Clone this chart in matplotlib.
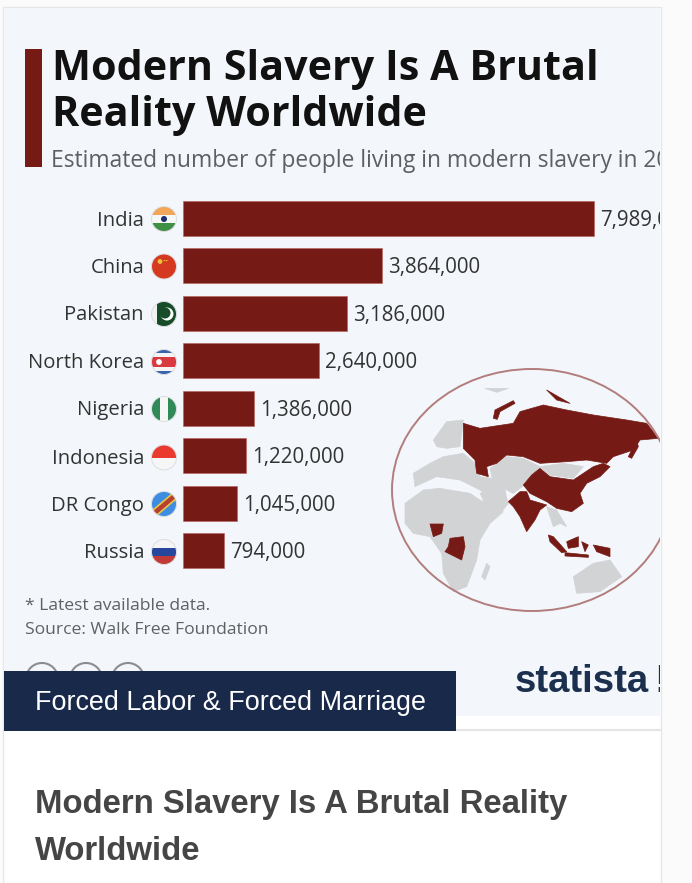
import matplotlib
matplotlib.use('Agg')
import matplotlib.pyplot as plt
from matplotlib.patches import Circle, Ellipse, Polygon, Rectangle

# chart data
countries = ['India', 'China', 'Pakistan', 'North Korea', 'Nigeria', 'Indonesia', 'DR Congo', 'Russia']
people = [7989000, 3864000, 3186000, 2640000, 1386000, 1220000, 1045000, 794000]
title_lines = ['Modern Slavery Is A Brutal', 'Reality Worldwide']
subtitle = 'Estimated number of people living in modern slavery in 2016*'
notes = ['* Latest available data.', 'Source: Walk Free Foundation']

DARK = '#751a14'
GREY = '#d2d3d5'
SANS = ['Open Sans', 'DejaVu Sans']

# map shapes, in the coordinates of a 300x260 crop starting at (380, 360)
grey_shapes = [
    [(75,430),(130,390),(180,385),(270,400),(300,420),(370,455),(330,490),(300,540),(290,600),(260,680),(220,695),(190,640),(185,580),(150,530),(100,520),(75,490)],
    [(105,380),(100,340),(150,310),(190,290),(250,280),(285,310),(300,350),(370,360),(380,420),(350,430),(300,390),(240,360),(170,350)],
    [(160,240),(200,185),(250,180),(240,260),(200,265),(170,260)],
    [(330,325),(380,290),(430,295),(480,320),(440,370),(400,400),(340,370)],
    [(480,320),(550,310),(610,320),(580,355),(510,345)],
    [(500,440),(530,450),(560,500),(540,490),(520,500)],
    [(580,650),(640,610),(690,600),(725,650),(660,695),(590,700)],
    [(320,610),(330,620),(315,660),(305,650)],
    [(315,85),(385,85),(350,97)],
    [(300,400),(370,380),(385,430),(365,455),(320,440)],
]
dark_shapes = [
    [(250,190),(300,205),(400,190),(420,155),(490,135),(560,150),(640,165),(740,180),(800,190),(835,235),(780,240),(760,270),(700,290),(680,310),(620,300),(560,305),(480,310),(430,290),(380,285),(350,310),(320,320),(325,350),(290,340),(285,300),(250,265)],
    [(480,325),(510,350),(580,360),(610,340),(640,320),(670,310),(690,320),(660,350),(620,370),(600,400),(610,430),(575,455),(530,445),(500,425),(450,400),(430,375),(455,345)],
    [(385,425),(420,395),(440,395),(450,420),(500,435),(480,450),(465,480),(440,515),(420,470),(400,440)],
    [(150,492),(190,492),(185,520),(160,530)],
    [(210,535),(250,530),(255,560),(245,600),(215,585),(195,575),(205,560)],
    [(505,525),(520,530),(560,575),(545,578),(510,545)],
    [(560,545),(595,530),(595,560),(565,565)],
    [(555,578),(625,585),(625,592),(555,588)],
    [(605,545),(625,555),(615,575)],
    [(640,555),(690,565),(690,590),(650,575)],
    [(745,290),(770,240),(775,260),(755,295)],
    [(340,175),(345,150),(400,122),(405,130),(360,155),(352,178)],
    [(500,90),(570,130),(530,120)],
]

fig = plt.figure(figsize=(6.92, 8.83), dpi=100)
bg = fig.add_axes([0, 0, 1, 1])
bg.set_xlim(0, 692)
bg.set_ylim(883, 0)
bg.axis('off')
fig.patch.set_facecolor('#fbfbfc')

# card
bg.add_patch(Rectangle((3, 7), 658, 876, fc='white', ec='#e6e7e9', lw=1))
panel = Rectangle((4, 8), 656, 708, fc='#f3f6fa', ec='none')
bg.add_patch(panel)
bg.plot([456, 660], [730, 730], color='#e4e5e7', lw=1.5)
bg.add_patch(Rectangle((25, 49), 17, 118, fc=DARK, ec='none'))

# header
bg.text(52, 70, title_lines[0], fontsize=29.7, fontweight='bold', family=SANS, color='#111111', va='center')
bg.text(52, 115, title_lines[1], fontsize=29.7, fontweight='bold', family=SANS, color='#111111', va='center')
sub = bg.text(51, 161, subtitle, fontsize=16.4, family=SANS, color='#5d5f62', va='center')
sub.set_clip_on(True)
sub.set_clip_path(panel)

# bars, through their own axes
ax = fig.add_axes([183 / 692, 1 - 576 / 883, 477 / 692, 380 / 883])
ax.set_xlim(0, 477 / 411 * people[0])
ax.set_ylim(len(countries) - 0.5 + 0.03, -0.5 + 0.03)
ax.axis('off')
ax.patch.set_alpha(0)
ax.barh(range(len(countries)), people, height=0.74, color=DARK, edgecolor='#b9605a', linewidth=0.4)
for i, v in enumerate(people):
    ax.annotate(f'{v:,}', (v, i), xytext=(6, -2), textcoords='offset pixels', va='center',
                fontsize=14.8, family=SANS, color='#333333', annotation_clip=False, clip_on=True)

row_y = [219, 266.5, 314, 362, 409, 457.5, 504, 552]
for name, y in zip(countries, row_y):
    bg.text(144, y + 1.5, name, ha='right', va='center', fontsize=14.6, family=SANS, color='#333333')


def flag(y, stripes, horizontal=True):
    clip = Circle((164, y), 12.5, transform=bg.transData)
    n = len(stripes)
    for k, c in enumerate(stripes):
        if horizontal:
            r = Rectangle((151, y - 12.5 + 25 * k / n), 26, 25 / n, fc=c, ec='none')
        else:
            r = Rectangle((151.5 + 25 * k / n, y - 13), 25 / n, 26, fc=c, ec='none')
        bg.add_patch(r)
        r.set_clip_path(clip)
    return clip


flag(row_y[0], ['#f2a65a', '#f5f6f6', '#3f8f45'])
bg.add_patch(Circle((164, row_y[0]), 3, fc='#1c2f6e', ec='none'))
flag(row_y[1], ['#d5391f'])
bg.add_patch(Circle((160, row_y[1] - 5), 2.4, fc='#ecc23f', ec='none'))
bg.text(165.5, row_y[1] - 5, '··', color='#ecc23f', fontsize=8, ha='center', va='center', family=SANS, fontweight='bold')
flag(row_y[2], ['#f0f1f1', '#174c28', '#174c28', '#174c28', '#174c28'], horizontal=False)
bg.add_patch(Circle((167, row_y[2]), 6.5, fc='white', ec='none'))
bg.add_patch(Circle((165, row_y[2] - 1), 5.5, fc='#174c28', ec='none'))
flag(row_y[3], ['#3a63ad', '#f4f4f4', '#d93a3f', '#d93a3f', '#d93a3f', '#f4f4f4', '#3a63ad'])
bg.add_patch(Circle((159, row_y[3]), 3.6, fc='white', ec='#d93a3f', lw=1))
flag(row_y[4], ['#2f8a57', '#f5f6f6', '#2f8a57'], horizontal=False)
flag(row_y[5], ['#ea3a30', '#f6f6f6'])
flag(row_y[6], ['#3d8de0'])
stripe = Polygon([(152, row_y[6] + 7), (172, row_y[6] - 10), (177, row_y[6] - 6), (157, row_y[6] + 11)], fc='#b8402e', ec='#e8c64a', lw=1.2)
bg.add_patch(stripe)
stripe.set_clip_path(Circle((164, row_y[6]), 12.5, transform=bg.transData))
flag(row_y[7], ['#f5f5f6', '#27479c', '#c23a35'])
for y in row_y:
    bg.add_patch(Circle((164, y), 12.5, fc='none', ec='#dcdde0', lw=0.7))

# map
for shape, color in [(s, GREY) for s in grey_shapes] + [(s, DARK) for s in dark_shapes]:
    pts = [(380 + px / 3, 360 + py / 3) for px, py in shape]
    p = Polygon(pts, fc=color, ec=color, lw=0.5, joinstyle='round')
    bg.add_patch(p)
    p.set_clip_path(panel)
outline = Ellipse((532, 490), 280, 242, fc='none', ec='#b27d7c', lw=1.4)
bg.add_patch(outline)
outline.set_clip_path(panel)

# footer
bg.text(25, 606, notes[0], fontsize=12.6, family=SANS, color='#5f6163', va='center')
bg.text(25, 630, notes[1], fontsize=12.6, family=SANS, color='#5f6163', va='center')
for cx in [42, 86, 128]:
    bg.add_patch(Circle((cx, 679), 16, fc='none', ec='#8b8d8f', lw=1.5))
bg.text(515, 682, 'statista', fontsize=27.5, fontweight='bold', color='#1b2f4e', va='center',
        family=['Liberation Sans'])
bang = bg.text(654, 682, '!', fontsize=27.5, fontweight='bold', color='#1b2f4e', va='center',
               family=['Liberation Sans'])
bang.set_clip_on(True)
bang.set_clip_path(panel)

bg.add_patch(Rectangle((4, 671), 452, 60, fc='#18294a', ec='none', zorder=5))
bg.text(35, 703, 'Forced Labor & Forced Marriage', fontsize=19.4, family=['Liberation Sans'], color='white', va='center', zorder=6)

# article title below the image
bg.text(35, 804, 'Modern Slavery Is A Brutal Reality', fontsize=23.7, fontweight='bold', family=['Liberation Sans'], color='#454545', va='center')
bg.text(35, 852, 'Worldwide', fontsize=23.7, fontweight='bold', family=['Liberation Sans'], color='#454545', va='center')

fig.savefig('out.png', dpi=100, facecolor=fig.get_facecolor())
